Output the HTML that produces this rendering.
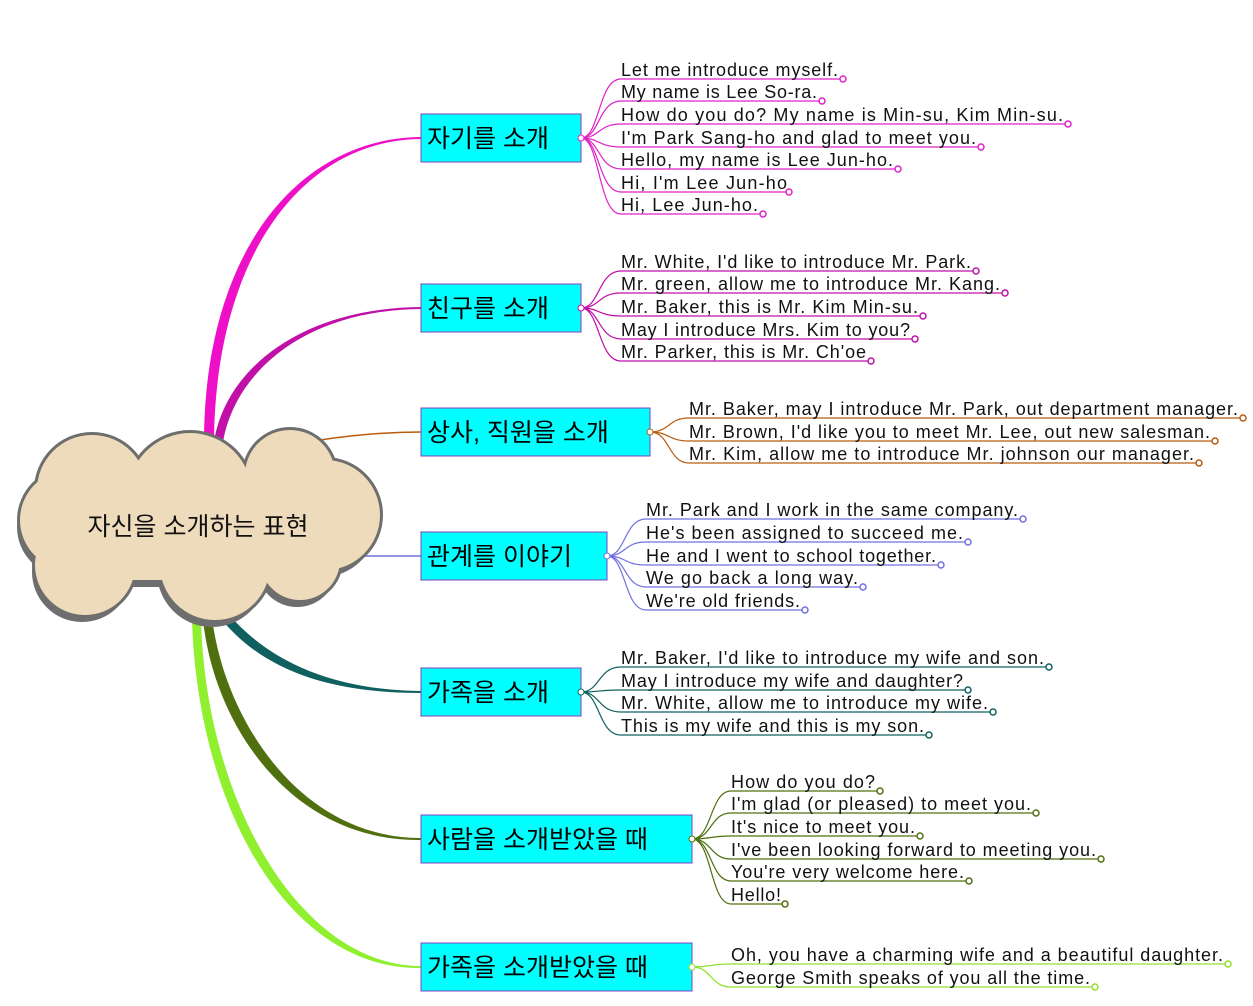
<!DOCTYPE html>
<html><head><meta charset="utf-8"><style>
html,body{margin:0;padding:0;background:#fff;}
svg text{font-family:"Liberation Sans","Noto Sans CJK KR",sans-serif;}
.l{font-size:18px;fill:#111;}
.b{font-size:25px;fill:#000;}
</style></head><body>
<svg width="1253" height="1001" viewBox="0 0 1253 1001" xmlns="http://www.w3.org/2000/svg">
<!-- main branches -->
<path d="M204,440 C205,250 300,138 421,137 L421,139 C303,140 216,255 214,440 Z" fill="#ee10c8"/>
<path d="M214,442 C225,370 300,308 421,307 L421,309 C305,310 235,372 223,442 Z" fill="#c010a8"/>
<path d="M320,440 C360,434 390,432 421,432" stroke="#b85c10" stroke-width="1.5" fill="none"/>
<path d="M350,556 C380,556 400,556 421,556" stroke="#7070e0" stroke-width="1.5" fill="none"/>
<path d="M232,618 C270,660 330,690 421,691 L421,693 C325,693 262,668 222,620 Z" fill="#106060"/>
<path d="M212,618 C225,720 300,838 421,838 L421,840 C295,842 215,730 203,620 Z" fill="#507010"/>
<path d="M201,618 C205,800 300,966 421,966 L421,968 C290,970 198,810 192,620 Z" fill="#90f030"/>
<!-- cloud shadow -->
<g fill="#6e6e6e" transform="translate(-3,7)">
<circle cx="92" cy="490" r="55"/><circle cx="190" cy="495" r="62"/><circle cx="290" cy="475" r="45"/>
<circle cx="325" cy="515" r="55"/><circle cx="300" cy="560" r="40"/><circle cx="215" cy="565" r="55"/>
<circle cx="85" cy="565" r="50"/><circle cx="70" cy="520" r="50"/><rect x="60" y="480" width="270" height="100"/>
</g>
<g fill="#6e6e6e">
<circle cx="92" cy="490" r="58"/><circle cx="190" cy="495" r="65"/><circle cx="290" cy="475" r="48"/>
<circle cx="325" cy="515" r="58"/><circle cx="300" cy="560" r="43"/><circle cx="215" cy="565" r="58"/>
<circle cx="85" cy="565" r="53"/><circle cx="70" cy="520" r="53"/>
</g>
<g fill="#eedbbb">
<circle cx="92" cy="490" r="55"/><circle cx="190" cy="495" r="62"/><circle cx="290" cy="475" r="45"/>
<circle cx="325" cy="515" r="55"/><circle cx="300" cy="560" r="40"/><circle cx="215" cy="565" r="55"/>
<circle cx="85" cy="565" r="50"/><circle cx="70" cy="520" r="50"/><rect x="60" y="480" width="270" height="100"/>
</g>
<text x="198" y="535" text-anchor="middle" style="font-size:25px;fill:#111">자신을 소개하는 표현</text>

<!-- Branch 1 -->
<g stroke="#e020c8" fill="none" stroke-width="1.2">
<path d="M581,138 C600,138 598,79 621,79 L843,79"/>
<path d="M581,138 C600,138 598,101 621,101 L822,101"/>
<path d="M581,138 C600,138 598,124 621,124 L1068,124"/>
<path d="M581,138 C600,138 598,147 621,147 L981,147"/>
<path d="M581,138 C600,138 598,169 621,169 L898,169"/>
<path d="M581,138 C600,138 598,192 621,192 L789,192"/>
<path d="M581,138 C600,138 598,214 621,214 L763,214"/>
</g>
<g fill="#fff" stroke="#e020c8" stroke-width="1.5">
<circle cx="843" cy="79" r="3"/><circle cx="822" cy="101" r="3"/><circle cx="1068" cy="124" r="3"/><circle cx="981" cy="147" r="3"/><circle cx="898" cy="169" r="3"/><circle cx="789" cy="192" r="3"/><circle cx="763" cy="214" r="3"/>
</g>
<rect x="421" y="114" width="160" height="48" fill="#00ffff" stroke="#8040c0"/>
<text class="b" x="427" y="147">자기를 소개</text>
<circle cx="581" cy="138" r="3" fill="#fff" stroke="#e020c8"/>
<text class="l" x="621" y="76" textLength="217">Let me introduce myself.</text>
<text class="l" x="621" y="98" textLength="196">My name is Lee So-ra.</text>
<text class="l" x="621" y="121" textLength="442">How do you do? My name is Min-su, Kim Min-su.</text>
<text class="l" x="621" y="144" textLength="355">I'm Park Sang-ho and glad to meet you.</text>
<text class="l" x="621" y="166" textLength="272">Hello, my name is Lee Jun-ho.</text>
<text class="l" x="621" y="189" textLength="166">Hi, I'm Lee Jun-ho</text>
<text class="l" x="621" y="211" textLength="137">Hi, Lee Jun-ho.</text>

<!-- Branch 2 -->
<g stroke="#c010a8" fill="none" stroke-width="1.2">
<path d="M581,308 C600,308 598,271 621,271 L976,271"/>
<path d="M581,308 C600,308 598,293 621,293 L1005,293"/>
<path d="M581,308 C600,308 598,316 621,316 L923,316"/>
<path d="M581,308 C600,308 598,339 621,339 L915,339"/>
<path d="M581,308 C600,308 598,361 621,361 L871,361"/>
</g>
<g fill="#fff" stroke="#c010a8" stroke-width="1.5">
<circle cx="976" cy="271" r="3"/><circle cx="1005" cy="293" r="3"/><circle cx="923" cy="316" r="3"/><circle cx="915" cy="339" r="3"/><circle cx="871" cy="361" r="3"/>
</g>
<rect x="421" y="284" width="160" height="48" fill="#00ffff" stroke="#8040c0"/>
<text class="b" x="427" y="317">친구를 소개</text>
<circle cx="581" cy="308" r="3" fill="#fff" stroke="#c010a8"/>
<text class="l" x="621" y="268" textLength="350">Mr. White, I'd like to introduce Mr. Park.</text>
<text class="l" x="621" y="290" textLength="379">Mr. green, allow me to introduce Mr. Kang.</text>
<text class="l" x="621" y="313" textLength="297">Mr. Baker, this is Mr. Kim Min-su.</text>
<text class="l" x="621" y="336" textLength="289">May I introduce Mrs. Kim to you?</text>
<text class="l" x="621" y="358" textLength="245">Mr. Parker, this is Mr. Ch'oe</text>

<!-- Branch 3 -->
<g stroke="#b85c10" fill="none" stroke-width="1.2">
<path d="M650,432 C670,432 668,418 689,418 L1243,418"/>
<path d="M650,432 C670,432 668,441 689,441 L1215,441"/>
<path d="M650,432 C670,432 668,463 689,463 L1199,463"/>
</g>
<g fill="#fff" stroke="#b85c10" stroke-width="1.5">
<circle cx="1243" cy="418" r="3"/><circle cx="1215" cy="441" r="3"/><circle cx="1199" cy="463" r="3"/>
</g>
<rect x="421" y="408" width="229" height="48" fill="#00ffff" stroke="#8040c0"/>
<text class="b" x="427" y="441">상사, 직원을 소개</text>
<circle cx="650" cy="432" r="3" fill="#fff" stroke="#b85c10"/>
<text class="l" x="689" y="415" textLength="549">Mr. Baker, may I introduce Mr. Park, out department manager.</text>
<text class="l" x="689" y="438" textLength="521">Mr. Brown, I'd like you to meet Mr. Lee, out new salesman.</text>
<text class="l" x="689" y="460" textLength="505">Mr. Kim, allow me to introduce Mr. johnson our manager.</text>

<!-- Branch 4 -->
<g stroke="#7070e0" fill="none" stroke-width="1.2">
<path d="M607,556 C626,556 624,519 646,519 L1023,519"/>
<path d="M607,556 C626,556 624,542 646,542 L968,542"/>
<path d="M607,556 C626,556 624,565 646,565 L941,565"/>
<path d="M607,556 C626,556 624,587 646,587 L863,587"/>
<path d="M607,556 C626,556 624,610 646,610 L805,610"/>
</g>
<g fill="#fff" stroke="#7070e0" stroke-width="1.5">
<circle cx="1023" cy="519" r="3"/><circle cx="968" cy="542" r="3"/><circle cx="941" cy="565" r="3"/><circle cx="863" cy="587" r="3"/><circle cx="805" cy="610" r="3"/>
</g>
<rect x="421" y="532" width="186" height="48" fill="#00ffff" stroke="#8040c0"/>
<text class="b" x="427" y="565">관계를 이야기</text>
<circle cx="607" cy="556" r="3" fill="#fff" stroke="#7070e0"/>
<text class="l" x="646" y="516" textLength="372">Mr. Park and I work in the same company.</text>
<text class="l" x="646" y="539" textLength="317">He's been assigned to succeed me.</text>
<text class="l" x="646" y="562" textLength="290">He and I went to school together.</text>
<text class="l" x="646" y="584" textLength="212">We go back a long way.</text>
<text class="l" x="646" y="607" textLength="154">We're old friends.</text>

<!-- Branch 5 -->
<g stroke="#106060" fill="none" stroke-width="1.2">
<path d="M581,692 C600,692 598,667 621,667 L1049,667"/>
<path d="M581,692 C600,692 598,690 621,690 L968,690"/>
<path d="M581,692 C600,692 598,712 621,712 L993,712"/>
<path d="M581,692 C600,692 598,735 621,735 L929,735"/>
</g>
<g fill="#fff" stroke="#106060" stroke-width="1.5">
<circle cx="1049" cy="667" r="3"/><circle cx="968" cy="690" r="3"/><circle cx="993" cy="712" r="3"/><circle cx="929" cy="735" r="3"/>
</g>
<rect x="421" y="668" width="160" height="48" fill="#00ffff" stroke="#8040c0"/>
<text class="b" x="427" y="701">가족을 소개</text>
<circle cx="581" cy="692" r="3" fill="#fff" stroke="#106060"/>
<text class="l" x="621" y="664" textLength="423">Mr. Baker, I'd like to introduce my wife and son.</text>
<text class="l" x="621" y="687" textLength="342">May I introduce my wife and daughter?</text>
<text class="l" x="621" y="709" textLength="367">Mr. White, allow me to introduce my wife.</text>
<text class="l" x="621" y="732" textLength="303">This is my wife and this is my son.</text>

<!-- Branch 6 -->
<g stroke="#507010" fill="none" stroke-width="1.2">
<path d="M692,839 C712,839 710,791 731,791 L880,791"/>
<path d="M692,839 C712,839 710,813 731,813 L1036,813"/>
<path d="M692,839 C712,839 710,836 731,836 L920,836"/>
<path d="M692,839 C712,839 710,859 731,859 L1101,859"/>
<path d="M692,839 C712,839 710,881 731,881 L969,881"/>
<path d="M692,839 C712,839 710,904 731,904 L785,904"/>
</g>
<g fill="#fff" stroke="#507010" stroke-width="1.5">
<circle cx="880" cy="791" r="3"/><circle cx="1036" cy="813" r="3"/><circle cx="920" cy="836" r="3"/><circle cx="1101" cy="859" r="3"/><circle cx="969" cy="881" r="3"/><circle cx="785" cy="904" r="3"/>
</g>
<rect x="421" y="815" width="271" height="48" fill="#00ffff" stroke="#8040c0"/>
<text class="b" x="427" y="848">사람을 소개받았을 때</text>
<circle cx="692" cy="839" r="3" fill="#fff" stroke="#507010"/>
<text class="l" x="731" y="788" textLength="144">How do you do?</text>
<text class="l" x="731" y="810" textLength="300">I'm glad (or pleased) to meet you.</text>
<text class="l" x="731" y="833" textLength="184">It's nice to meet you.</text>
<text class="l" x="731" y="856" textLength="365">I've been looking forward to meeting you.</text>
<text class="l" x="731" y="878" textLength="233">You're very welcome here.</text>
<text class="l" x="731" y="901" textLength="50">Hello!</text>

<!-- Branch 7 -->
<g stroke="#90e030" fill="none" stroke-width="1.2">
<path d="M692,967 C712,967 710,964 731,964 L1228,964"/>
<path d="M692,967 C712,967 710,987 731,987 L1095,987"/>
</g>
<g fill="#fff" stroke="#90e030" stroke-width="1.5">
<circle cx="1228" cy="964" r="3"/><circle cx="1095" cy="987" r="3"/>
</g>
<rect x="421" y="943" width="271" height="48" fill="#00ffff" stroke="#8040c0"/>
<text class="b" x="427" y="976">가족을 소개받았을 때</text>
<circle cx="692" cy="967" r="3" fill="#fff" stroke="#90e030"/>
<text class="l" x="731" y="961" textLength="492">Oh, you have a charming wife and a beautiful daughter.</text>
<text class="l" x="731" y="984" textLength="359">George Smith speaks of you all the time.</text>
</svg>
</body></html>
